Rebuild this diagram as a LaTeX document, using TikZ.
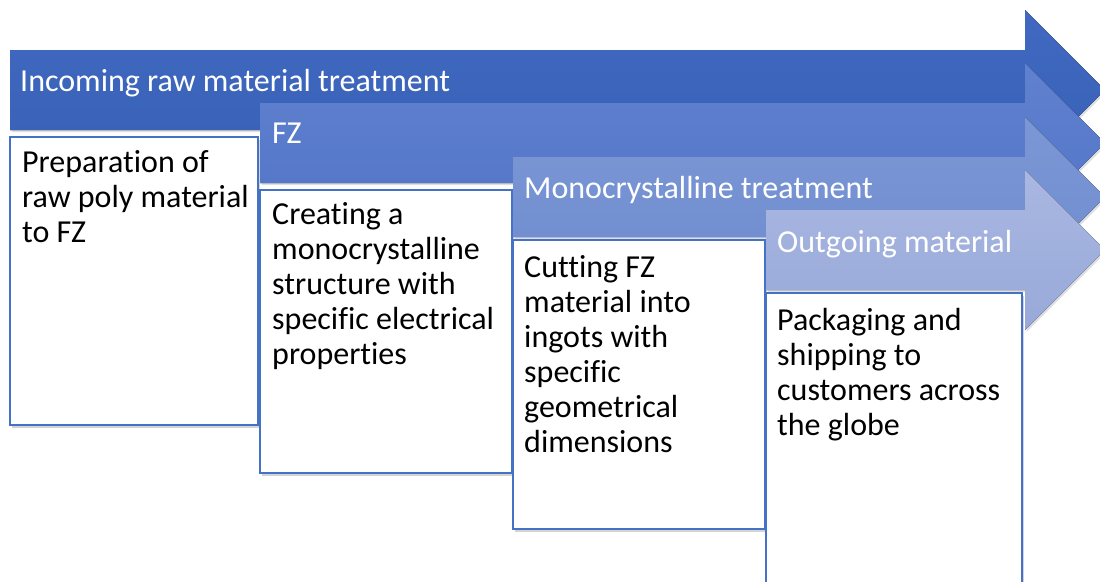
\documentclass[tikz,border=0pt]{standalone}
\usepackage{fontspec}
\setmainfont{Carlito}[Ligatures=NoCommon]
\usetikzlibrary{shadows}

\definecolor{boxline}{HTML}{4472C4}
\definecolor{aOneTop}{HTML}{4169C1}
\definecolor{aOneBot}{HTML}{3760B6}
\definecolor{aTwoTop}{HTML}{5F81CF}
\definecolor{aTwoBot}{HTML}{5475C7}
\definecolor{aThreeTop}{HTML}{7C97D5}
\definecolor{aThreeBot}{HTML}{6E8CCF}
\definecolor{aFourTop}{HTML}{A9B7E1}
\definecolor{aFourBot}{HTML}{98A9D9}

% chevron-headed band: #1 left edge, #2 top of the band, #3 fill style
\newcommand{\stageband}[3]{%
  \fill[#3, drop shadow={opacity=0.25, shadow xshift=1.5pt, shadow yshift=-2pt}]
    (#1,#2) -- (1025,#2) -- (1025,#2-40) -- (1105,#2+40)
    -- (1025,#2+120) -- (1025,#2+80) -- (#1,#2+80) -- cycle;}

% description text, baseline of the first line at the node's base
\newcommand{\stagetext}[1]{%
  \parbox[t]{240pt}{\raggedright\fontsize{32}{35}\selectfont #1}}

\begin{document}
\begin{tikzpicture}[x=1pt, y=-1pt,
  bandtitle/.style={anchor=base west, inner sep=0pt, text=white,
    font=\fontsize{32}{35}\selectfont},
  stagebox/.style={draw=boxline, line width=1.2pt, fill=white,
    drop shadow={opacity=0.35, shadow xshift=2pt, shadow yshift=-3pt}},
  boxtext/.style={anchor=base west, inner sep=0pt}]
\useasboundingbox (0,0) rectangle (1100,581);
\clip (0,0) rectangle (1100,581);

% stage 1
\stageband{10}{50}{top color=aOneTop, bottom color=aOneBot}
\node[bandtitle] (t1) at (20,91) {Incoming raw material treatment};
\draw[stagebox] (10,137) rectangle (258,425);
\node[boxtext] (b1) at (22,172) {\stagetext{Preparation of\\raw poly material\\to FZ}};

% stage 2
\stageband{260}{103}{top color=aTwoTop, bottom color=aTwoBot}
\node[bandtitle] (t2) at (272,143) {FZ};
\draw[stagebox] (260,190) rectangle (512,473);
\node[boxtext] (b2) at (272,224) {\stagetext{Creating a\\monocrystalline\\structure with\\specific electrical\\properties}};

% stage 3
\stageband{513}{157}{top color=aThreeTop, bottom color=aThreeBot}
\node[bandtitle] (t3) at (524,198) {Monocrystalline treatment};
\draw[stagebox] (513,240) rectangle (765,529);
\node[boxtext] (b3) at (524,277) {\stagetext{Cutting FZ\\material into\\ingots with\\specific\\geometrical\\dimensions}};

% stage 4
\stageband{766}{210}{top color=aFourTop, bottom color=aFourBot}
\node[bandtitle] (t4) at (777,252) {Outgoing material};
\draw[stagebox] (766,293) rectangle (1022,600);
\node[boxtext] (b4) at (777,330) {\stagetext{Packaging and\\shipping to\\customers across\\the globe}};
\end{tikzpicture}
\end{document}
